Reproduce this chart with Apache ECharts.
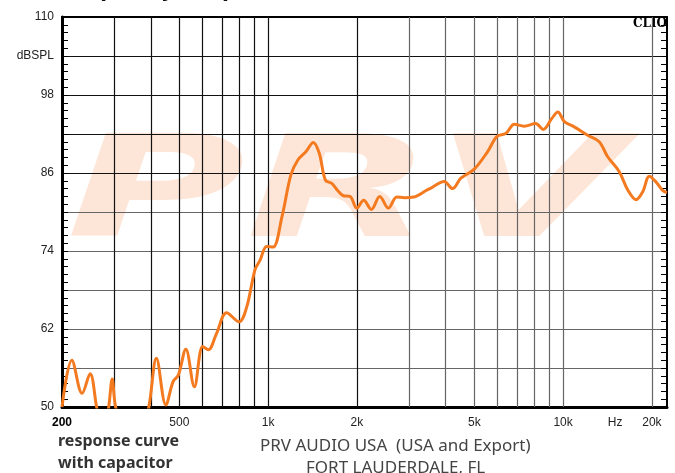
<!DOCTYPE html>
<html>
<head>
<meta charset="utf-8">
<title>Frequency Response</title>
<script src="https://cdn.jsdelivr.net/npm/echarts@6/dist/echarts.min.js"></script>
<style>
  html, body { margin: 0; padding: 0; background: #fff; }
  #main { width: 675px; height: 473px; }
</style>
</head>
<body>
<div id="main"></div>
<script>
var freqHz = [200, 216, 234, 249, 262, 275, 288, 296, 304, 350, 394, 418, 450, 476, 496, 526, 562, 600, 627, 668,
  723, 797, 846, 902, 939, 988, 1039, 1114, 1194, 1261, 1344, 1422, 1491, 1563, 1643, 1720, 1798, 1894, 1997, 2107,
  2237, 2390, 2555, 2730, 2900, 3114, 3461, 3600, 3946, 4216, 4502, 4998, 5548, 5960, 6400, 6834, 7380, 8070, 8560, 9160,
  9593, 10100, 10900, 12110, 13250, 14160, 15500, 16560, 17670, 18610, 19600, 20670, 21780, 22500];
var splDb = [50.0, 57.2, 52.1, 55.1, 50.0, 45.0, 50.0, 54.3, 50.0, 40.0, 50.0, 57.5, 50.3, 53.9, 54.9, 58.9, 53.1, 59.3, 58.8, 61.3,
  64.5, 63.1, 65.4, 71.1, 72.6, 74.7, 74.6, 79.3, 85.7, 88.0, 89.3, 90.7, 89.0, 84.9, 84.4, 83.3, 82.5, 82.4, 80.6, 81.8,
  80.4, 82.4, 80.6, 82.3, 82.2, 82.3, 83.4, 83.8, 84.7, 83.6, 85.2, 86.6, 89.3, 91.6, 92.1, 93.5, 93.2, 93.6, 92.7, 94.4,
  95.4, 93.9, 93.1, 91.8, 90.8, 88.5, 86.2, 83.4, 81.9, 83.1, 85.5, 84.6, 83.3, 83.0];

// axis ticks
var gridFreqs = [300, 400, 500, 600, 700, 800, 900, 1000, 2000, 3000, 4000, 5000, 6000, 7000, 8000, 9000, 10000, 20000];
var freqLabels = [200, 500, 1000, 2000, 5000, 10000, 15000, 20000];
var freqLabelText = { 200: '200', 500: '500', 1000: '1k', 2000: '2k', 5000: '5k', 10000: '10k', 15000: 'Hz', 20000: '20k' };

var myChart = echarts.init(document.getElementById('main'), null, { renderer: 'canvas' });

var points = freqHz.map(function (f, i) { return [f, splDb[i]]; });

var vLines = gridFreqs.map(function (f) {
  return { xAxis: f, lineStyle: { color: f <= 2000 ? '#111' : '#666' } };
});

var option = {
  backgroundColor: '#fff',
  animation: false,
  grid: { left: 62, right: 8, top: 17, bottom: 66 },
  xAxis: [{
    type: 'log',
    logBase: 10,
    min: 200,
    max: 22500,
    axisLine: { show: true, lineStyle: { color: '#000', width: 3 } },
    axisTick: { show: false },
    splitLine: { show: false },
    axisLabel: {
      customValues: freqLabels,
      margin: 10,
      color: '#222',
      fontFamily: 'Liberation Sans',
      fontSize: 12,
      formatter: function (v) {
        var k = Math.round(v);
        var t = freqLabelText[k] || '';
        return k === 200 ? '{b|' + t + '}' : t;
      },
      rich: { b: { fontWeight: 'bold', fontSize: 12, fontFamily: 'Liberation Sans', color: '#000' } }
    }
  }, {
    type: 'log',
    logBase: 10,
    position: 'top',
    min: 200,
    max: 22500,
    axisLine: { show: true, lineStyle: { color: '#000', width: 2 } },
    axisTick: { show: false },
    splitLine: { show: false },
    axisLabel: { show: false }
  }],
  yAxis: [{
    type: 'value',
    min: 50,
    max: 110,
    interval: 6,
    axisLine: { show: true, lineStyle: { color: '#000', width: 3 } },
    axisTick: { show: true, inside: true, length: 6, lineStyle: { color: '#000', width: 1 } },
    minorTick: { show: true, splitNumber: 5, length: 6, lineStyle: { color: '#000', width: 1 } },
    splitLine: {
      show: true,
      lineStyle: { width: 1.2, color: ['#000', '#666', '#666', '#666', '#666', '#666', '#111', '#111', '#111', '#111', '#000'] }
    },
    axisLabel: {
      margin: 8,
      color: '#222',
      fontFamily: 'Liberation Sans',
      fontSize: 12,
      formatter: function (v) {
        if (v === 104) return 'dBSPL';
        return (v - 50) % 12 === 0 ? String(v) : '';
      }
    }
  }, {
    type: 'value',
    position: 'right',
    min: 50,
    max: 110,
    interval: 6,
    axisLine: { show: true, lineStyle: { color: '#000', width: 2 } },
    axisTick: { show: true, inside: true, length: 6, lineStyle: { color: '#000', width: 1 } },
    minorTick: { show: true, splitNumber: 5, length: 6, lineStyle: { color: '#000', width: 1 } },
    splitLine: { show: false },
    axisLabel: { show: false }
  }],
  graphic: [
    {
      type: 'text', x: 66, y: 130, z: -5, silent: true, scaleX: 1.75,
      style: { text: 'PRV', font: 'italic 900 140px "DejaVu Sans"', fill: '#fde6d7' }
    },
    {
      type: 'text', left: 57, top: -18,
      style: { text: 'Frequency Response', font: 'bold 20px "DejaVu Sans"', fill: '#111' }
    },
    {
      type: 'text', right: 8, top: 18,
      style: { text: 'CLIO', font: 'bold 12px "DejaVu Serif"', fill: '#000' }
    },
    {
      type: 'text', left: 58, top: 430,
      style: { text: 'response curve\nwith capacitor', font: 'bold 16px "Noto Sans"', lineHeight: 22, fill: '#333' }
    },
    {
      type: 'text', left: 260, top: 438,
      style: { text: 'PRV AUDIO USA  (USA and Export)', font: '17px "Noto Sans"', fill: '#444' }
    },
    {
      type: 'text', left: 306, top: 460,
      style: { text: 'FORT LAUDERDALE, FL', font: '17px "Noto Sans"', fill: '#444' }
    }
  ],
  series: [{
    type: 'line',
    data: points,
    smooth: 0.35,
    showSymbol: false,
    clip: true,
    lineStyle: { color: '#f47a20', width: 3 },
    z: 5,
    markLine: {
      silent: true,
      symbol: 'none',
      label: { show: false },
      lineStyle: { type: 'solid', width: 1.2 },
      data: vLines
    }
  }]
};

myChart.setOption(option);
</script>
</body>
</html>
